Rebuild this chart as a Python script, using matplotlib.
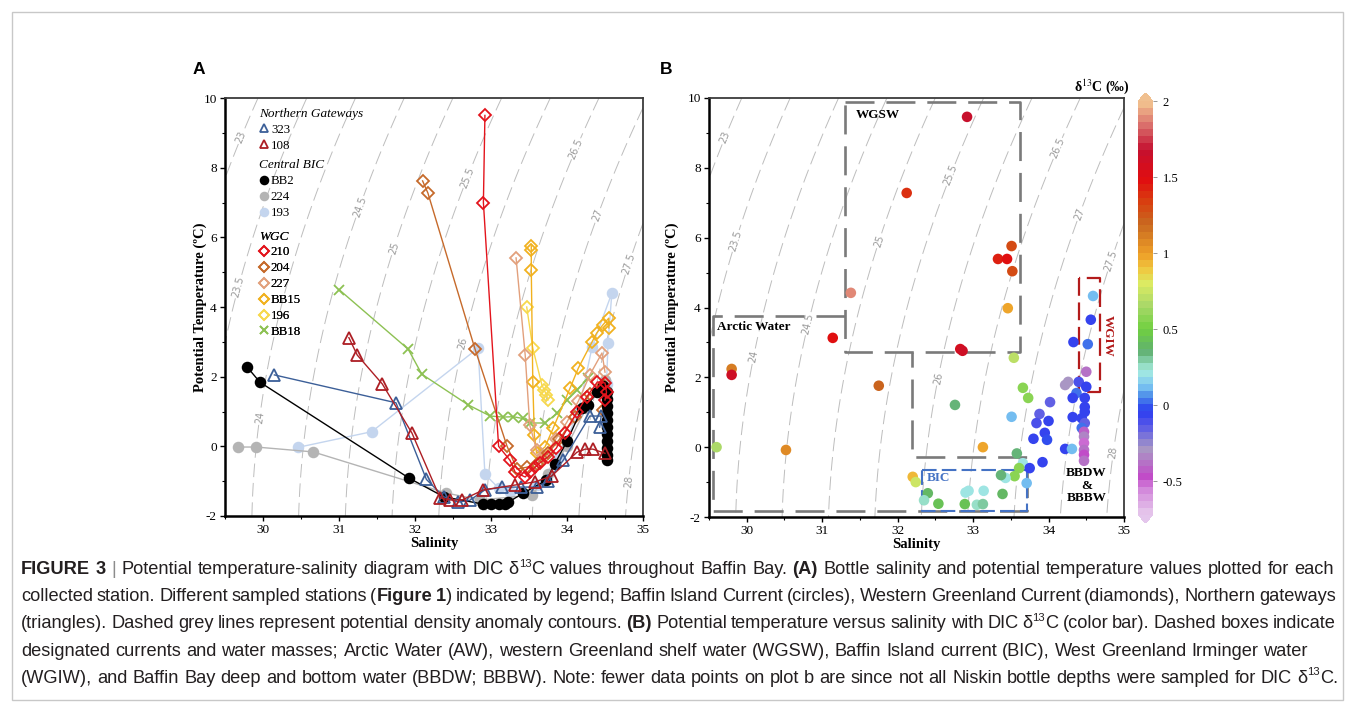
import numpy as np
import matplotlib
matplotlib.use('Agg')
import matplotlib.pyplot as plt
from matplotlib.colors import LinearSegmentedColormap, Normalize
from matplotlib.lines import Line2D
from matplotlib.patches import Rectangle
from matplotlib.ticker import MultipleLocator

# ---------------- panel A : stations (salinity, potential temperature) ----
st323_sal = [30.15, 31.75, 32.15, 32.38, 32.57, 32.72, 32.92, 33.15, 33.4, 33.6, 33.75, 33.95, 34.3, 34.45, 34.43]
st323_tmp = [2.05, 1.25, -0.95, -1.45, -1.6, -1.55, -1.25, -1.17, -1.17, -1.17, -1.0, -0.4, 0.87, 0.87, 0.55]

st108_sal = [31.13, 31.24, 31.57, 31.96, 32.33, 32.46, 32.62, 32.9, 33.32, 33.58, 33.8, 34.13, 34.24, 34.34, 34.5]
st108_tmp = [3.12, 2.62, 1.79, 0.38, -1.48, -1.54, -1.54, -1.25, -1.11, -1.02, -0.85, -0.17, -0.08, -0.08, -0.2]

bb2_sal = [29.79, 29.96, 31.92, 32.38, 32.9, 33.0, 33.1, 33.18, 33.23, 33.42, 33.73, 33.84, 34.0, 34.2,
           34.27, 34.4, 34.47, 34.52, 34.52, 34.52, 34.52, 34.52, 34.52, 34.52, 34.52, 34.52, 34.52, 34.52]
bb2_tmp = [2.28, 1.84, -0.91, -1.45, -1.66, -1.66, -1.66, -1.66, -1.6, -1.35, -0.97, -0.5, 0.15, 1.1,
           1.2, 1.55, 1.72, 1.55, 1.35, 1.15, 0.95, 0.75, 0.55, 0.35, 0.15, -0.05, -0.25, -0.4]

st224_sal = [29.67, 29.91, 30.66, 32.41, 32.86, 33.54, 33.75, 34.0, 34.25, 34.5, 34.52]
st224_tmp = [-0.02, -0.02, -0.16, -1.34, -1.54, -1.4, -0.8, 0.0, 1.1, 1.9, 1.6]

st193_sal = [30.46, 31.43, 32.83, 32.92, 33.1, 33.25, 33.6, 33.9, 34.15, 34.33, 34.59, 34.54, 34.52]
st193_tmp = [-0.03, 0.42, 2.82, -0.8, -1.2, -1.3, -1.1, -0.3, 1.0, 2.85, 4.4, 2.97, 1.8]

st210_sal = [32.92, 32.9, 33.1, 33.25, 33.32, 33.45, 33.51, 33.58, 33.64, 33.75, 33.86, 33.97, 34.13, 34.26, 34.4, 34.5, 34.52, 34.5]
st210_tmp = [9.5, 7.0, 0.0, -0.4, -0.75, -0.88, -0.74, -0.6, -0.48, -0.3, -0.05, 0.38, 0.98, 1.42, 1.85, 1.82, 1.55, 1.33]

st204_sal = [32.1, 32.17, 32.79, 33.21, 33.34, 33.47, 33.6, 33.75, 33.9, 34.1, 34.3, 34.48, 34.47]
st204_tmp = [7.62, 7.27, 2.79, 0.01, -0.65, -0.6, -0.5, -0.2, 0.2, 0.85, 1.5, 1.75, 1.04]

st227_sal = [33.33, 33.45, 33.51, 33.6, 33.7, 33.85, 34.0, 34.15, 34.3, 34.46, 34.5]
st227_tmp = [5.41, 2.62, 0.61, -0.1, -0.3, 0.2, 0.7, 1.3, 2.05, 2.68, 2.13]

bb15_sal = [33.53, 33.53, 33.53, 33.55, 33.57, 33.6, 33.71, 33.82, 34.04, 34.15, 34.33, 34.39, 34.47, 34.55, 34.55]
bb15_tmp = [5.75, 5.63, 5.06, 1.85, 0.33, -0.2, -0.02, 0.53, 1.67, 2.25, 3.0, 3.25, 3.48, 3.68, 3.4]

st196_sal = [33.47, 33.55, 33.67, 33.7, 33.73, 33.75]
st196_tmp = [4.0, 2.82, 1.76, 1.62, 1.47, 1.33]

bb18_sal = [31.0, 31.91, 32.09, 32.7, 32.99, 33.16, 33.29, 33.42, 33.51, 33.71, 33.87, 34.0, 34.13, 34.28]
bb18_tmp = [4.5, 2.79, 2.07, 1.19, 0.87, 0.84, 0.85, 0.8, 0.67, 0.67, 0.95, 1.33, 1.62, 1.96]

# ---------------- panel B : bottle samples with DIC d13C -----------------
b_sal = [32.92, 32.12, 31.38, 31.14, 29.80, 29.80, 29.60, 30.52, 31.75, 33.51, 33.33, 33.45, 33.52, 33.46,
         34.59, 34.56, 34.33, 34.52, 32.83, 32.86, 33.54, 34.50, 34.22, 34.26, 34.40, 34.50, 34.37, 34.32,
         34.48, 34.48, 34.48, 34.32, 34.44, 34.48, 34.44, 34.47, 34.47, 34.47, 34.47, 34.47, 34.47, 33.66,
         33.73, 34.02, 33.88, 33.84, 34.00, 33.51, 32.76, 33.95, 33.80, 33.98, 34.22, 34.31, 33.13, 33.58,
         33.92, 33.66, 33.75, 33.61, 33.55, 33.71, 33.43, 33.37, 32.20, 32.24, 32.40, 32.35, 32.54, 32.90,
         32.94, 33.14, 32.89, 33.05, 33.13, 33.39]
b_tmp = [9.46, 7.28, 4.42, 3.13, 2.24, 2.07, 0.00, -0.08, 1.76, 5.76, 5.39, 5.39, 5.04, 3.98,
         4.33, 3.65, 3.01, 2.95, 2.81, 2.76, 2.56, 2.16, 1.78, 1.87, 1.87, 1.73, 1.55, 1.41,
         1.41, 1.15, 1.01, 0.86, 0.83, 0.69, 0.55, 0.44, 0.30, 0.12, -0.08, -0.22, -0.39, 1.70,
         1.41, 1.29, 0.95, 0.69, 0.75, 0.87, 1.21, 0.41, 0.24, 0.21, -0.05, -0.05, 0.00, -0.18,
         -0.43, -0.46, -0.60, -0.60, -0.83, -1.03, -0.88, -0.80, -0.85, -1.00, -1.32, -1.52, -1.62, -1.30,
         -1.25, -1.25, -1.63, -1.65, -1.63, -1.34]
b_d13c = [1.65, 1.40, 1.90, 1.50, 1.10, 1.60, 0.65, 1.05, 1.20, 1.30, 1.45, 1.50, 1.30, 1.00,
          0.10, -0.05, -0.05, 0.05, 1.55, 1.62, 0.70, -0.38, -0.30, -0.30, -0.10, -0.08, 0.02, -0.05,
          -0.08, -0.06, -0.08, -0.06, -0.08, -0.15, 0.03, -0.42, -0.35, -0.50, -0.40, -0.45, -0.36, 0.55,
          0.55, -0.15, -0.15, -0.10, -0.08, 0.10, 0.35, -0.06, -0.08, 0.00, -0.08, 0.10, 1.00, 0.35,
          -0.08, 0.20, -0.08, 0.55, 0.55, 0.10, 0.20, 0.35, 0.95, 0.75, 0.40, 0.25, 0.45, 0.20,
          0.22, 0.22, 0.45, 0.26, 0.28, 0.38]

# water-mass boxes (salinity, temperature vertices)
wgsw_sal = [31.3, 33.62, 33.62, 31.3, 31.3]
wgsw_tmp = [9.88, 9.88, 2.73, 2.73, 9.88]
aw_sal = [31.3, 29.55, 29.55, 33.71, 33.71, 32.19, 32.19]
aw_tmp = [3.76, 3.76, -1.83, -1.83, -0.28, -0.28, 2.73]
bic_sal = [32.32, 33.72, 33.72, 32.32, 32.32]
bic_tmp = [-0.65, -0.65, -1.83, -1.83, -0.65]
wgiw_sal = [34.41, 34.41, 34.68, 34.68, 34.41]
wgiw_tmp = [4.85, 1.58, 1.58, 4.85, 4.85]

sigma_levels = np.arange(23, 28.01, 0.5)
labels_a = [(29.72, 8.88), (29.67, 4.57), (29.96, 0.84), (31.28, 6.87), (31.74, 5.69), (32.68, 7.73),
            (32.63, 2.97), (34.1, 8.56), (34.39, 6.64), (34.79, 5.26), (34.79, -1.02)]
labels_b = [(29.71, 8.88), (29.82, 5.93), (30.08, 2.61), (30.77, 3.55), (31.73, 5.93), (32.7, 7.79),
            (32.5, 2.0), (34.12, 8.56), (34.41, 6.69), (34.82, 5.35), (34.89, -0.17)]

cbar_ticks = [2, 1.5, 1, 0.5, 0, -0.5]

plt.rcParams['font.family'] = ['Liberation Serif', 'DejaVu Serif']
plt.rcParams['mathtext.fontset'] = 'stix'
plt.rcParams['axes.unicode_minus'] = False


def sigma0(s, t):
    """UNESCO 1981 density at surface pressure, minus 1000"""
    rw = (999.842594 + 6.793952e-2 * t - 9.095290e-3 * t**2 + 1.001685e-4 * t**3
          - 1.120083e-6 * t**4 + 6.536332e-9 * t**5)
    a = 0.824493 - 4.0899e-3 * t + 7.6438e-5 * t**2 - 8.2467e-7 * t**3 + 5.3875e-9 * t**4
    b = -5.72466e-3 + 1.0227e-4 * t - 1.6546e-6 * t**2
    return rw + a * s + b * s**1.5 + 4.8314e-4 * s**2 - 1000.0


def fmt_level(v):
    return ('%.1f' % v).rstrip('0').rstrip('.')


def setup_ts(ax, label_pos, ypad):
    ss, tt = np.meshgrid(np.linspace(29.5, 35, 300), np.linspace(-2, 10, 300))
    cs = ax.contour(ss, tt, sigma0(ss, tt), levels=sigma_levels, colors='#bdbdbd',
                    linewidths=0.7, zorder=1)
    cs.set_linestyle((0, (14, 6)))
    ax.clabel(cs, manual=label_pos, fmt=fmt_level, fontsize=7, colors='#9a9a9a',
              inline=True, inline_spacing=3)
    for t in cs.labelTexts:
        t.set_family('DejaVu Sans')
    ax.set_xlim(29.5, 35)
    ax.set_ylim(-2, 10)
    ax.xaxis.set_major_locator(MultipleLocator(1))
    ax.xaxis.set_minor_locator(MultipleLocator(0.5))
    ax.yaxis.set_major_locator(MultipleLocator(2))
    ax.yaxis.set_minor_locator(MultipleLocator(1))
    ax.tick_params(which='major', direction='out', length=3.5, width=1.0, labelsize=9.5, pad=2.5)
    ax.tick_params(which='minor', direction='out', length=2.2, width=0.8)
    for side in ['left', 'bottom']:
        ax.spines[side].set_linewidth(1.8)
        ax.spines[side].set_color('black')
    for side in ['top', 'right']:
        ax.spines[side].set_linewidth(1.3)
        ax.spines[side].set_color('#3c3c3c')
    ax.set_xlabel('Salinity', fontsize=10.5, fontweight='bold', labelpad=0.5)
    ax.set_ylabel('Potential Temperature (ºC)', fontsize=10.5, fontweight='bold', labelpad=ypad)


fig = plt.figure(figsize=(13.55, 7.11), dpi=100)
W, H = 1355.0, 711.0

axA = fig.add_axes([225 / W, 1 - 516 / H, 418 / W, 418 / H])
axB = fig.add_axes([709 / W, 1 - 517 / H, 415 / W, 419 / H])
cax = fig.add_axes([1138 / W, 1 - 523 / H, 15 / W, 430 / H])

setup_ts(axA, labels_a, -2.5)
setup_ts(axB, labels_b, 6)

# ---- panel A lines ----
stations = [
    ('193', st193_sal, st193_tmp, dict(color='#c4d5ee', marker='o', ms=7, mfc='#c4d5ee')),
    ('224', st224_sal, st224_tmp, dict(color='#b4b4b4', marker='o', ms=7, mfc='#b4b4b4')),
    ('BB18', bb18_sal, bb18_tmp, dict(color='#8dc153', marker='x', ms=7, mfc='none')),
    ('196', st196_sal, st196_tmp, dict(color='#f7d84c', marker='D', ms=6, mfc='none')),
    ('BB15', bb15_sal, bb15_tmp, dict(color='#f1b11f', marker='D', ms=6, mfc='none')),
    ('227', st227_sal, st227_tmp, dict(color='#e2a07c', marker='D', ms=6, mfc='none')),
    ('204', st204_sal, st204_tmp, dict(color='#c66a2b', marker='D', ms=6, mfc='none')),
    ('BB2', bb2_sal, bb2_tmp, dict(color='#000000', marker='o', ms=7, mfc='#000000')),
    ('323', st323_sal, st323_tmp, dict(color='#3c5f98', marker='^', ms=8, mfc='none')),
    ('108', st108_sal, st108_tmp, dict(color='#ad1e24', marker='^', ms=8, mfc='none')),
    ('210', st210_sal, st210_tmp, dict(color='#e3141c', marker='D', ms=6, mfc='none')),
]
style = {}
for i, (name, s, t, st) in enumerate(stations):
    axA.plot(s, t, color=st['color'], lw=1.0, marker=st['marker'], ms=st['ms'],
             mfc=st['mfc'], mec=st['color'], mew=1.3, zorder=3 + i)
    style[name] = st


def station_legend(ax, names, title, ytop):
    handles = [Line2D([], [], ls='none', marker=style[n]['marker'], ms=style[n]['ms'] * 0.8,
                      mfc=style[n]['mfc'], mec=style[n]['color'], mew=1.3) for n in names]
    leg = ax.legend(handles, names, title=title, loc='upper left', bbox_to_anchor=(0.082, ytop),
                    frameon=False, prop={'family': 'Liberation Serif', 'size': 9.3},
                    title_fontproperties={'family': 'Liberation Serif', 'style': 'italic', 'size': 9.5},
                    alignment='left', handlelength=0.7, handletextpad=0.2, labelspacing=0.3,
                    borderpad=0, borderaxespad=0)
    ax.add_artist(leg)


station_legend(axA, ['323', '108'], 'Northern Gateways', 0.976)
station_legend(axA, ['BB2', '224', '193'], 'Central BIC', 0.853)
station_legend(axA, ['210', '204', '227', 'BB15', '196', 'BB18'], 'WGC', 0.683)

# ---- panel B ----
cmap = LinearSegmentedColormap.from_list('d13c', [
    (0.000, '#e4c2ea'), (0.060, '#d080d8'), (0.081, '#c248c8'), (0.154, '#a898c4'),
    (0.210, '#5858e8'), (0.246, '#2a3cf0'), (0.283, '#4a8ae8'), (0.309, '#7cc6f2'),
    (0.346, '#a6ece0'), (0.393, '#60b070'), (0.449, '#70d040'), (0.504, '#a8d868'),
    (0.559, '#dcea62'), (0.596, '#f0c840'), (0.632, '#eea028'), (0.706, '#c86820'),
    (0.761, '#d84010'), (0.816, '#e00d10'), (0.890, '#c41030'), (0.945, '#d86868'),
    (1.000, '#f0bc8c')], N=60)
cmap.set_over('#f0c090')
cmap.set_under('#e4c6ec')
norm = Normalize(vmin=-0.72, vmax=2.0)

axB.plot(wgsw_sal, wgsw_tmp, color='#7a7a7a', lw=1.9, ls='--', dashes=(11, 4.5), zorder=2)
axB.plot(aw_sal, aw_tmp, color='#7a7a7a', lw=1.9, ls='--', dashes=(11, 4.5), zorder=2)
axB.plot(bic_sal, bic_tmp, color='#4472c4', lw=1.5, ls='--', dashes=(7, 2.5), zorder=2)
axB.plot(wgiw_sal, wgiw_tmp, color='#b31b1b', lw=1.6, ls='--', dashes=(8, 3), zorder=2)

sc = axB.scatter(b_sal, b_tmp, c=b_d13c, cmap=cmap, norm=norm, s=58, linewidths=0, zorder=4)

axB.text(31.45, 9.5, 'WGSW', fontsize=9.5, fontweight='bold', va='center', ha='left', zorder=6)
axB.text(29.6, 3.45, 'Arctic Water', fontsize=9.5, fontweight='bold', va='center', ha='left', zorder=6)
axB.text(32.38, -0.88, 'BIC', fontsize=9.5, fontweight='bold', color='#4472c4', va='center',
         ha='left', zorder=6)
axB.text(34.78, 3.2, 'WGIW', fontsize=9.5, fontweight='bold', color='#b31b1b', rotation=-90,
         va='center', ha='center', zorder=6)
axB.text(34.5, -1.1, 'BBDW\n&\nBBBW', fontsize=9.5, fontweight='bold', va='center', ha='center',
         linespacing=1.05, zorder=6)

cb = fig.colorbar(sc, cax=cax, extend='both', extendfrac=0.02, ticks=cbar_ticks)
cb.outline.set_visible(False)
cb.ax.tick_params(length=3, width=0.6, color='#888888', labelsize=9, pad=4)
cb.ax.set_yticklabels([fmt_level(v) for v in cbar_ticks])
fig.text(1130 / W, 1 - 87 / H, 'δ$^{13}$C (‰)', fontsize=10, fontweight='bold', ha='right', va='center')

fig.text(193 / W, 1 - 69 / H, 'A', family='Liberation Sans', fontsize=12.5, fontweight='bold', va='center')
fig.text(660 / W, 1 - 69 / H, 'B', family='Liberation Sans', fontsize=12.5, fontweight='bold', va='center')

# outer frame
fig.patches.append(Rectangle((12 / W, 11 / H), 1331 / W, 688 / H, transform=fig.transFigure,
                             fill=False, edgecolor='#c8c8c8', lw=1.0))

# ---- caption (justified lines) ----
renderer = fig.canvas.get_renderer()


def part_kw(kind, size):
    kw = dict(family='Liberation Sans', color='#231f20', fontsize=size)
    if kind == 'b':
        kw['fontweight'] = 'bold'
    elif kind == 'sup':
        kw['fontsize'] = size * 0.62
    elif kind == 'bar':
        kw['color'] = '#8c8c8c'
    return kw


def text_width(txt, kw):
    a = fig.text(0, 0, '|' + txt + '|', **kw)
    b = fig.text(0, 0, '||', **kw)
    w = a.get_window_extent(renderer).width - b.get_window_extent(renderer).width
    a.remove()
    b.remove()
    return w


def split_parts(parts):
    segs = []
    for txt, kind in parts:
        pieces = txt.split(' ')
        for j, p in enumerate(pieces):
            if j > 0:
                segs.append((' ', kind))
            if p:
                segs.append((p, kind))
    return segs


def draw_line(parts, x0, ybase, size, right):
    segs = split_parts(parts)
    widths = [text_width(t, part_kw(k, size)) for t, k in segs]
    nsp = sum(1 for t, _ in segs if t == ' ')
    extra = (right - x0 - sum(widths)) / max(nsp, 1)
    x = x0
    for (txt, kind), w in zip(segs, widths):
        if txt == ' ':
            x += w + extra
            continue
        kw = part_kw(kind, size)
        dy = size * 0.40 * 100 / 72 if kind == 'sup' else 0
        fig.text(x / W, 1 - (ybase - dy) / H, txt, va='baseline', ha='left', **kw)
        x += w


cap = [
    [('FIGURE 3', 'b'), (' | ', 'bar'), ('Potential temperature-salinity diagram with DIC δ', 'n'),
     ('13', 'sup'), ('C values throughout Baffin Bay. ', 'n'), ('(A)', 'b'),
     (' Bottle salinity and potential temperature values plotted for each', 'n')],
    [('collected station. Different sampled stations (', 'n'), ('Figure 1', 'b'),
     (') indicated by legend; Baffin Island Current (circles), Western Greenland Current (diamonds), Northern gateways', 'n')],
    [('(triangles). Dashed grey lines represent potential density anomaly contours. ', 'n'), ('(B)', 'b'),
     (' Potential temperature versus salinity with DIC δ', 'n'), ('13', 'sup'),
     ('C (color bar). Dashed boxes indicate', 'n')],
    [('designated currents and water masses; Arctic Water (AW), western Greenland shelf water (WGSW), Baffin Island current (BIC), West Greenland Irminger water', 'n')],
    [('(WGIW), and Baffin Bay deep and bottom water (BBDW; BBBW). Note: fewer data points on plot b are since not all Niskin bottle depths were sampled for DIC δ', 'n'),
     ('13', 'sup'), ('C.', 'n')],
]
cap_right = [1334, 1336, 1336, 1308, 1338]
size = 12.0 * 1313.0 / sum(text_width(t, part_kw(k, 12.0)) for t, k in split_parts(cap[0]))
for i, parts in enumerate(cap):
    draw_line(parts, 21, 574 + i * 27.2, size, cap_right[i])

fig.savefig('out.png', dpi=100)
